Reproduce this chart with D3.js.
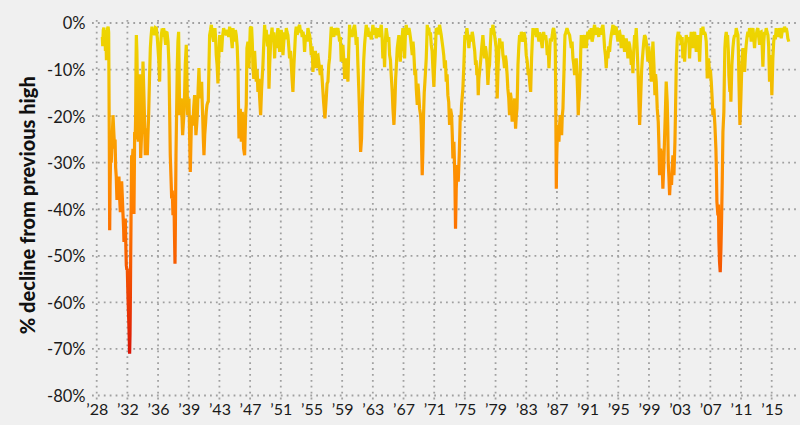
<!DOCTYPE html>
<html><head><meta charset="utf-8">
<script src="https://cdn.jsdelivr.net/npm/d3@7"></script>
<style>
body{margin:0;background:#f0f0f0;}
svg{display:block;font-family:Lato,"Open Sans",sans-serif;}
</style>
</head><body>
<svg id="chart" width="800" height="425"></svg>
<script>
// y tick values (% decline) and x tick labels
const yTickValues = [0, -10, -20, -30, -40, -50, -60, -70, -80];
const xTickLabels = ["’28","’32","’36","’39","’43","’47","’51","’55","’59","’63","’67","’71","’75","’79","’83","’87","’91","’95","’99","’03","’07","’11","’15"];
const xTickFirst = 1928.07, xTickLast = 2015.41;

// drawdown series: [decimal year, % decline from previous high]
const dd1928_1945 = [[1928.80,-3],[1928.85,-5],[1928.92,-1.5],[1929.0,-1.0],[1929.06,-4],[1929.12,-1.5],[1929.2,-6],[1929.27,-3],[1929.33,-8],[1929.4,-5],[1929.47,-1.2],[1929.55,-0.8],[1929.62,-2],
[1929.70,-25],[1929.75,-44.5],[1929.80,-35],[1929.88,-28],[1929.95,-30],[1930.05,-26],[1930.18,-19.8],[1930.3,-24],[1930.39,-27],[1930.45,-25],[1930.52,-31],[1930.6,-33],[1930.69,-38],[1930.8,-34],[1930.95,-33],[1931.05,-38],[1931.13,-40.6],[1931.22,-36],[1931.30,-34],[1931.4,-38],[1931.47,-41],[1931.55,-44],[1931.60,-47],[1931.68,-45],[1931.77,-42],[1931.85,-48.5],[1931.90,-52],[1931.97,-53],[1932.03,-52.8],[1932.12,-59],[1932.2,-63],[1932.25,-65.7],[1932.33,-71],[1932.38,-67],[1932.42,-60.6],[1932.47,-50],[1932.51,-42.7],[1932.59,-28.4],[1932.68,-30],[1932.76,-27],[1932.85,-35],[1932.89,-41],[1932.95,-30],[1932.98,-23.4],[1933.05,-25],[1933.11,-19.8],[1933.16,-8],[1933.20,-2.6],[1933.27,-6],[1933.33,-12.6],[1933.4,-20],[1933.45,-25.5],[1933.55,-16],[1933.63,-11],[1933.7,-22],[1933.76,-29],[1933.85,-25],[1933.93,-22],[1934.0,-14],[1934.06,-8.3],[1934.12,-12],[1934.19,-16],[1934.28,-22],[1934.36,-28.4],[1934.43,-25],[1934.49,-22.6],[1934.55,-26],[1934.62,-28.4],[1934.7,-24],[1934.79,-20],[1934.9,-12],[1935.01,-5.4],[1935.1,-3],[1935.22,-0.8],[1935.35,-2.5],[1935.45,-1.5],[1935.57,-2.6],[1935.68,-1.0],[1935.78,-1.1],[1935.9,-3],[1936.0,-5.4],[1936.1,-8],[1936.21,-12.6],[1936.3,-6],[1936.43,-2.6],[1936.55,-1.2],[1936.65,-3],[1936.73,-1.1],[1936.85,-2.5],[1936.99,-4.7],[1937.08,-2],[1937.16,-1.9],[1937.3,-4],[1937.42,-9],[1937.5,-18],[1937.59,-28.4],[1937.68,-33],[1937.77,-37.7],[1937.85,-36],[1937.94,-41.3],[1938.0,-39],[1938.07,-38.4],[1938.14,-46],[1938.20,-51.7],[1938.26,-42],[1938.33,-28.4],[1938.42,-18],[1938.50,-9],[1938.58,-4],[1938.67,-1.9],[1938.74,-10],[1938.80,-19.8],[1938.9,-17],[1939.02,-16.2],[1939.1,-20],[1939.19,-24.1],[1939.3,-21],[1939.40,-18.4],[1939.53,-9],[1939.66,-4.7],[1939.75,-12],[1939.84,-19.8],[1939.92,-17],[1940.01,-16.2],[1940.1,-25],[1940.18,-32],[1940.26,-26],[1940.35,-19.8],[1940.45,-22],[1940.53,-21.2],[1940.63,-18],[1940.74,-15.5],[1940.83,-20],[1940.91,-24.1],[1941.0,-22],[1941.09,-19.8],[1941.2,-14],[1941.30,-9.7],[1941.38,-14],[1941.47,-16.2],[1941.56,-14],[1941.65,-12.6],[1941.72,-17],[1941.78,-19.8],[1941.87,-25],[1941.95,-28.4],[1942.05,-24],[1942.17,-21.2],[1942.25,-19],[1942.34,-17.6],[1942.45,-17],[1942.51,-16.9],[1942.6,-9],[1942.68,-2.6],[1942.8,-1.5],[1942.90,-0.4],[1943.05,-2.5],[1943.20,-4.0],[1943.3,-2],[1943.37,-1.1],[1943.45,-3],[1943.54,-6.9],[1943.65,-9],[1943.76,-13],[1943.85,-8],[1943.98,-2.6],[1944.1,-4],[1944.23,-6.2],[1944.35,-3],[1944.49,-1.1],[1944.65,-2],[1944.83,-2.6],[1945.0,-1.5],[1945.15,-3],[1945.27,-0.8],[1945.45,-2.5],[1945.61,-5.4]];

const dd1945_1963 = [[1945.70,-1.1],[1945.8,-2.5],[1945.92,-4.0],[1946.02,-1.5],[1946.13,-2.6],[1946.25,-5],[1946.35,-9.7],[1946.48,-24.8],[1946.56,-20],[1946.65,-18.4],[1946.78,-25.5],[1946.91,-19.1],[1947.0,-23],[1947.08,-27],[1947.21,-28.4],[1947.34,-19.8],[1947.42,-17.6],[1947.51,-5.4],[1947.64,-4.0],[1947.77,-9.7],[1947.94,-1.1],[1948.11,-0.8],[1948.2,-4],[1948.29,-9.7],[1948.40,-12],[1948.50,-6],[1948.62,-10],[1948.72,-12.6],[1948.83,-10],[1948.93,-14.8],[1949.05,-12],[1949.15,-16],[1949.28,-19.8],[1949.41,-14],[1949.58,-9],[1949.70,-4],[1949.80,-0.4],[1949.9,-3],[1950.01,-1.5],[1950.1,-3.5],[1950.18,-5],[1950.28,-2.5],[1950.36,-14.1],[1950.45,-9],[1950.53,-6],[1950.6,-4],[1950.66,-2.6],[1950.76,-1],[1950.87,-4],[1950.98,-2],[1951.09,-7.6],[1951.2,-3],[1951.31,-5.4],[1951.42,-2.5],[1951.52,-1.1],[1951.62,-3],[1951.74,-6.2],[1951.85,-3],[1951.95,-1.5],[1952.06,-3],[1952.17,-6.9],[1952.28,-4],[1952.38,-2],[1952.50,-3.5],[1952.60,-1.1],[1952.7,-2],[1952.81,-2.6],[1952.92,-5],[1953.03,-7.6],[1953.15,-6],[1953.25,-9],[1953.35,-12],[1953.46,-14.8],[1953.59,-9],[1953.72,-4.7],[1953.8,-2],[1953.89,-0.8],[1954.0,-2.5],[1954.1,-2],[1954.2,-1],[1954.32,-0.4],[1954.44,-2],[1954.55,-1.5],[1954.66,-3],[1954.76,-1.9],[1954.87,-3],[1954.97,-6.2],[1955.08,-3],[1955.19,-2.6],[1955.3,-4],[1955.40,-1.1],[1955.5,-2],[1955.62,-2.6],[1955.72,-4],[1955.83,-6.9],[1955.95,-5],[1956.05,-10.5],[1956.15,-7],[1956.26,-7.6],[1956.37,-6],[1956.48,-9.7],[1956.60,-7],[1956.70,-6.9],[1956.85,-9],[1957.0,-11.2],[1957.13,-9],[1957.26,-12.6],[1957.43,-17],[1957.60,-20.5],[1957.77,-16.2],[1957.88,-13],[1957.99,-12.6],[1958.10,-9],[1958.20,-7.6],[1958.32,-4],[1958.42,-0.8],[1958.53,-2.5],[1958.64,-1.5],[1958.75,-3],[1958.85,-1.1],[1958.96,-2],[1959.07,-2.6],[1959.18,-1.5],[1959.28,-1.1],[1959.4,-2.5],[1959.50,-4.0],[1959.6,-3],[1959.71,-8.3],[1959.82,-6],[1959.93,-4.7],[1960.04,-8],[1960.15,-12],[1960.25,-9],[1960.36,-7.6],[1960.47,-10],[1960.58,-12.6],[1960.68,-6],[1960.79,-0.4],[1960.9,-2.5],[1961.01,-1.5],[1961.12,-3],[1961.22,-1.9],[1961.33,-1],[1961.44,-0.4],[1961.55,-2],[1961.65,-4.7],[1961.76,-3],[1961.87,-9],[1961.98,-14],[1962.09,-19.8],[1962.22,-27.7],[1962.34,-24.8],[1962.43,-18],[1962.52,-13.3],[1962.62,-8],[1962.73,-4.7],[1962.84,-2.5],[1962.95,-0.4],[1963.06,-2],[1963.17,-1],[1963.28,-3],[1963.38,-1.9],[1963.6,-3.5]];

const dd1963_1982 = [[1963.81,-0.4],[1963.92,-2.5],[1964.03,-2],[1964.13,-1],[1964.24,-3.3],[1964.35,-2],[1964.46,-1.1],[1964.57,-3],[1964.67,-2.6],[1964.78,-1.5],[1964.89,-0.4],[1965.0,-3],[1965.10,-7.6],[1965.21,-5],[1965.32,-9.5],[1965.42,-4],[1965.53,-1.1],[1965.64,-2.5],[1965.75,-4.0],[1965.86,-3],[1965.97,-6.9],[1966.08,-8],[1966.18,-11.2],[1966.31,-14.8],[1966.40,-18.4],[1966.53,-21.9],[1966.66,-16.9],[1966.75,-12],[1966.83,-9.7],[1966.96,-5.4],[1967.06,-4],[1967.17,-2.6],[1967.26,-5],[1967.35,-8.3],[1967.43,-6],[1967.52,-5.4],[1967.60,-3],[1967.69,-1.1],[1967.8,-3],[1967.91,-7.6],[1968.0,-3],[1968.12,-0.4],[1968.24,-2.5],[1968.35,-1.5],[1968.47,-1.1],[1968.57,-2],[1968.68,-3.3],[1968.79,-5],[1968.90,-6.9],[1969.0,-4],[1969.07,-5.4],[1969.15,-8],[1969.24,-11.2],[1969.33,-10],[1969.42,-14.1],[1969.55,-17.6],[1969.64,-13],[1969.72,-14.8],[1969.85,-18.4],[1969.98,-19.8],[1970.05,-22],[1970.11,-26.2],[1970.19,-32.7],[1970.28,-27],[1970.36,-19.8],[1970.45,-15],[1970.54,-12.6],[1970.63,-10],[1970.71,-7.6],[1970.78,-4],[1970.84,-0.4],[1970.95,-2],[1971.04,-1],[1971.14,-2.6],[1971.25,-2],[1971.36,-4.7],[1971.47,-6],[1971.57,-9.7],[1971.70,-13.7],[1971.78,-10],[1971.87,-6.9],[1972.0,-1.1],[1972.1,-2],[1972.22,-1],[1972.33,-2.5],[1972.43,-0.4],[1972.54,-1.5],[1972.65,-2.6],[1972.76,-4],[1972.87,-5.4],[1972.98,-7],[1973.08,-9.7],[1973.19,-8],[1973.30,-12.6],[1973.41,-11],[1973.51,-15.5],[1973.62,-17],[1973.73,-21.9],[1973.86,-18.4],[1973.99,-19.8],[1974.08,-24],[1974.16,-29.1],[1974.29,-25.5],[1974.36,-30],[1974.42,-34.1],[1974.50,-44.2],[1974.59,-35.6],[1974.72,-30.5],[1974.85,-34.1],[1974.98,-28.4],[1975.05,-24],[1975.11,-19.8],[1975.20,-21],[1975.28,-17.6],[1975.36,-16],[1975.45,-14.1],[1975.58,-9],[1975.71,-2.6],[1975.84,-3.5],[1975.97,-1.1],[1976.1,-3],[1976.23,-5.4],[1976.31,-3.5],[1976.40,-2.6],[1976.53,-4],[1976.66,-1.9],[1976.77,-3],[1976.88,-4.7],[1976.98,-6],[1977.09,-9],[1977.17,-8],[1977.26,-11.2],[1977.35,-10],[1977.44,-15.5],[1977.52,-12],[1977.61,-10.5],[1977.70,-9],[1977.78,-7.6],[1977.9,-5],[1978.04,-2.6],[1978.15,-5],[1978.26,-7.6],[1978.36,-5],[1978.47,-6.2],[1978.58,-9],[1978.69,-13.3],[1978.80,-10],[1978.90,-9],[1979.0,-5],[1979.12,-1.1],[1979.22,-2.5],[1979.33,-0.4],[1979.44,-1.5],[1979.55,-2.6],[1979.66,-4],[1979.76,-5.4],[1979.82,-9],[1979.89,-16.2],[1980.02,-9],[1980.11,-6],[1980.20,-3.3],[1980.30,-4.5],[1980.41,-5.4],[1980.52,-4],[1980.63,-6.9],[1980.74,-8],[1980.84,-9.7],[1980.95,-7],[1981.06,-8.3],[1981.17,-11],[1981.27,-14.1],[1981.38,-16],[1981.49,-19.8],[1981.60,-15],[1981.70,-16.2],[1981.83,-21.2]];

const dd1982_2000 = [[1981.93,-17.6],[1982.04,-19],[1982.15,-16.2],[1982.27,-22.7],[1982.36,-20],[1982.45,-18.4],[1982.52,-14],[1982.58,-9],[1982.69,-5],[1982.79,-2.6],[1982.9,-4],[1983.01,-1.9],[1983.11,-3],[1983.22,-4.0],[1983.33,-2],[1983.44,-2.6],[1983.55,-4],[1983.65,-6.9],[1983.78,-8.3],[1983.91,-11.2],[1984.0,-10],[1984.09,-12.6],[1984.22,-14.8],[1984.34,-7.6],[1984.43,-4],[1984.52,-1.1],[1984.63,-2.5],[1984.75,-1.2],[1984.86,-1.9],[1984.95,-3],[1985.03,-1.1],[1985.16,-2.5],[1985.29,-4.0],[1985.38,-2],[1985.47,-2.6],[1985.60,-4],[1985.72,-5.4],[1985.81,-3],[1985.90,-1.9],[1986.03,-3.5],[1986.16,-2.6],[1986.26,-4],[1986.37,-6.9],[1986.48,-5],[1986.59,-9.7],[1986.68,-6],[1986.76,-3.3],[1986.89,-4],[1987.02,-2.6],[1987.10,-1.5],[1987.19,-1.1],[1987.28,-2],[1987.36,-2.6],[1987.41,-6],[1987.45,-12.6],[1987.50,-25],[1987.54,-35.6],[1987.58,-30],[1987.62,-27],[1987.68,-24],[1987.75,-21.9],[1987.81,-25],[1987.88,-25.5],[1987.96,-22],[1988.05,-19.8],[1988.14,-22],[1988.23,-24.1],[1988.31,-20],[1988.40,-18.4],[1988.47,-14],[1988.53,-10.5],[1988.60,-6],[1988.66,-2.6],[1988.79,-2],[1988.92,-1.1],[1989.09,-2],[1989.26,-2.6],[1989.37,-4],[1989.48,-5.4],[1989.58,-4],[1989.69,-7.6],[1989.80,-9],[1989.91,-11.2],[1990.01,-9],[1990.12,-7.6],[1990.25,-12.6],[1990.32,-16],[1990.38,-19.8],[1990.45,-17],[1990.51,-16.2],[1990.58,-13],[1990.64,-10.5],[1990.70,-6],[1990.77,-2.6],[1990.88,-4],[1990.99,-5.4],[1991.10,-3.5],[1991.20,-2.6],[1991.31,-4],[1991.42,-5.4],[1991.52,-3],[1991.63,-1.9],[1991.74,-3.5],[1991.85,-1.5],[1991.95,-2.5],[1992.06,-1.1],[1992.17,-4],[1992.28,-3],[1992.38,-1.5],[1992.49,-0.4],[1992.6,-2],[1992.7,-2.5],[1992.82,-1],[1992.93,-1.9],[1993.03,-3],[1993.14,-1.1],[1993.25,-2],[1993.35,-2.5],[1993.46,-1],[1993.57,-0.4],[1993.68,-2.5],[1993.79,-5.4],[1993.90,-7],[1994.0,-9.7],[1994.11,-6],[1994.22,-7.6],[1994.32,-5],[1994.43,-6.2],[1994.54,-4],[1994.65,-2.6],[1994.76,-1.5],[1994.87,-0.4],[1994.98,-2],[1995.08,-2.5],[1995.19,-1],[1995.30,-1.1],[1995.40,-2.5],[1995.51,-4.0],[1995.62,-2],[1995.73,-1.9],[1995.84,-3],[1995.94,-5.4],[1996.05,-3],[1996.16,-2.6],[1996.26,-4],[1996.37,-6.2],[1996.48,-4],[1996.59,-3.3],[1996.70,-5],[1996.81,-7.6],[1996.91,-4],[1997.02,-4.7],[1997.13,-6],[1997.24,-9],[1997.34,-7],[1997.45,-10.8],[1997.56,-6],[1997.67,-2.6],[1997.78,-3.5],[1997.88,-1.1],[1997.99,-5],[1998.10,-9.7],[1998.23,-16.9],[1998.32,-21.9],[1998.44,-16.9],[1998.57,-10.5],[1998.66,-8],[1998.75,-6.2],[1998.86,-4],[1998.96,-2.6],[1999.07,-3],[1999.18,-4.0],[1999.29,-6],[1999.39,-8.3],[1999.50,-5],[1999.61,-6.9],[1999.72,-9],[1999.83,-12.6],[1999.94,-8]];

const dd2000_2017 = [[2000.04,-4.0],[2000.17,-9],[2000.30,-15.5],[2000.38,-11],[2000.47,-12.6],[2000.60,-18.4],[2000.73,-21.2],[2000.82,-26.2],[2000.90,-32.7],[2001.03,-27],[2001.16,-28.4],[2001.25,-31],[2001.33,-35.6],[2001.46,-29.8],[2001.56,-24],[2001.64,-19.8],[2001.76,-12.6],[2001.89,-16.9],[2001.96,-22],[2002.02,-29.8],[2002.11,-33],[2002.20,-37],[2002.33,-32.7],[2002.45,-34.8],[2002.54,-31],[2002.63,-28.4],[2002.76,-32.7],[2002.89,-25.5],[2002.97,-18.4],[2003.06,-9],[2003.19,-3.3],[2003.32,-1.9],[2003.40,-3.5],[2003.49,-2.6],[2003.60,-3],[2003.71,-4.7],[2003.82,-3],[2003.92,-7.6],[2004.03,-5],[2004.14,-8.3],[2004.24,-5],[2004.35,-2.6],[2004.46,-3.5],[2004.57,-4.0],[2004.68,-3],[2004.78,-7.6],[2004.89,-4],[2005.0,-1.9],[2005.10,-3.5],[2005.21,-5.4],[2005.32,-3],[2005.43,-1.9],[2005.54,-3.5],[2005.65,-6.2],[2005.76,-4],[2005.86,-2.6],[2005.97,-4],[2006.08,-8.3],[2006.18,-4],[2006.29,-1.1],[2006.40,-2.5],[2006.51,-0.8],[2006.62,-2.5],[2006.72,-1.9],[2006.83,-2.5],[2006.94,-4.0],[2007.0,-7],[2007.07,-11.9],[2007.15,-9],[2007.24,-7.6],[2007.30,-9],[2007.37,-11.9],[2007.48,-10],[2007.59,-12.6],[2007.70,-16],[2007.80,-19.8],[2007.93,-18.4],[2008.06,-21.9],[2008.19,-27],[2008.26,-32],[2008.32,-38.4],[2008.45,-41.3],[2008.52,-39],[2008.58,-47],[2008.66,-51.3],[2008.75,-53.5],[2008.84,-48.5],[2008.92,-42.7],[2009.01,-34.1],[2009.10,-23.4],[2009.22,-19.1],[2009.28,-12],[2009.35,-5.4],[2009.44,-3],[2009.53,-1.9],[2009.62,-3.5],[2009.70,-2.6],[2009.80,-6],[2009.87,-11.2],[2010.0,-14.8],[2010.07,-12],[2010.13,-16.9],[2010.26,-9],[2010.39,-5.4],[2010.50,-3.5],[2010.61,-2.6],[2010.72,-3],[2010.82,-1.1],[2010.93,-2],[2011.04,-2.6],[2011.10,-6],[2011.17,-12.6],[2011.30,-21.9],[2011.42,-16.2],[2011.55,-9],[2011.68,-5.4],[2011.80,-7],[2011.90,-10.5],[2012.0,-7],[2012.11,-4.7],[2012.22,-3],[2012.33,-1.9],[2012.44,-3],[2012.54,-1.1],[2012.65,-2],[2012.76,-4.0],[2012.87,-2],[2012.98,-1.1],[2013.08,-3],[2013.19,-5.4],[2013.30,-3],[2013.41,-2.6],[2013.52,-1.5],[2013.62,-1.1],[2013.73,-3],[2013.84,-4.7],[2013.95,-2],[2014.05,-1.9],[2014.16,-4],[2014.27,-9.4],[2014.38,-4],[2014.49,-1.9],[2014.60,-2.5],[2014.70,-1.1],[2014.81,-2],[2014.92,-2.6],[2015.02,-5],[2015.13,-12.6],[2015.26,-6.9],[2015.35,-10],[2015.43,-15.5],[2015.56,-7.6],[2015.67,-4],[2015.78,-2.6],[2015.88,-3.5],[2015.99,-1.1],[2016.10,-2.5],[2016.21,-1.9],[2016.32,-3],[2016.43,-1.1],[2016.54,-2],[2016.64,-3.3],[2016.75,-2],[2016.86,-1.1],[2016.96,-2],[2017.07,-0.8],[2017.18,-1.5],[2017.29,-1.1],[2017.40,-2],[2017.50,-3.3],[2017.63,-4.0]];

const series = [].concat(dd1928_1945, dd1945_1963, dd1963_1982, dd1982_2000, dd2000_2017);

// colour ramp along the value axis
const gradStops = [[0,"#ecd900"],[-10,"#f1c600"],[-20,"#f7ab00"],[-30,"#fd9400"],[-40,"#ff7d00"],[-50,"#f86000"],[-60,"#ec3c04"],[-72,"#d81208"]];

const svg = d3.select("#chart");
const W = 800, H = 425;
svg.append("rect").attr("width", W).attr("height", H).attr("fill", "#f0f0f0");

const x = d3.scaleLinear().domain([xTickFirst, xTickLast]).range([96.7, 771.7]);
const y = d3.scaleLinear().domain([-80, 0]).range([395.5, 23]);
const xTickPos = xTickLabels.map((l, i) => xTickFirst + i * (xTickLast - xTickFirst) / (xTickLabels.length - 1));

const gridColor = "#a0a0a0";
const grid = svg.append("g");
grid.selectAll("line.h").data(yTickValues).join("line")
  .attr("x1", 92).attr("x2", 799)
  .attr("y1", d => y(d)).attr("y2", d => y(d))
  .attr("stroke", gridColor).attr("stroke-width", 1.8).attr("stroke-dasharray", "1.8,4.1");
grid.selectAll("line.v").data(xTickPos).join("line")
  .attr("x1", d => x(d)).attr("x2", d => x(d))
  .attr("y1", 20).attr("y2", 401)
  .attr("stroke", gridColor).attr("stroke-width", 1.8).attr("stroke-dasharray", "1.8,4.1");

// y axis labels
const yAxis = d3.axisLeft(y).tickValues(yTickValues).tickSize(0).tickPadding(0).tickFormat(d => d + "%");
const gy = svg.append("g").attr("transform", "translate(85.5,0)").call(yAxis);
gy.select(".domain").remove();
gy.selectAll("text").attr("font-size", 16.5).attr("fill", "#1a1a1a").attr("font-family", "Lato, sans-serif").attr("dy", "0.36em");

// x axis labels
const xAxis = d3.axisBottom(x).tickValues(xTickPos).tickSize(0).tickPadding(0).tickFormat((d, i) => xTickLabels[i]);
const gx = svg.append("g").attr("transform", "translate(0,404)").call(xAxis);
gx.select(".domain").remove();
gx.selectAll("text").attr("font-size", 16).attr("fill", "#1a1a1a").attr("font-family", "Lato, sans-serif").attr("dy", "0.71em");

// y axis title
svg.append("text")
  .attr("transform", `translate(35,${(y(0) + y(-80)) / 2 - 4}) rotate(-90)`)
  .attr("text-anchor", "middle")
  .attr("font-size", 20).attr("font-weight", 900).attr("fill", "#111")
  .attr("font-family", "Lato, sans-serif")
  .text("% decline from previous high");

// gradient
const defs = svg.append("defs");
const lg = defs.append("linearGradient").attr("id", "ddGrad")
  .attr("gradientUnits", "userSpaceOnUse")
  .attr("x1", 0).attr("x2", 0).attr("y1", y(0)).attr("y2", y(-72));
lg.selectAll("stop").data(gradStops).join("stop")
  .attr("offset", d => (d[0] / -72))
  .attr("stop-color", d => d[1]);

const line = d3.line().x(d => x(d[0])).y(d => y(d[1]));
svg.append("path").datum(series)
  .attr("d", line)
  .attr("fill", "none")
  .attr("stroke", "url(#ddGrad)")
  .attr("stroke-width", 3.2)
  .attr("stroke-linejoin", "miter")
  .attr("stroke-miterlimit", 2);
</script>
</body></html>
